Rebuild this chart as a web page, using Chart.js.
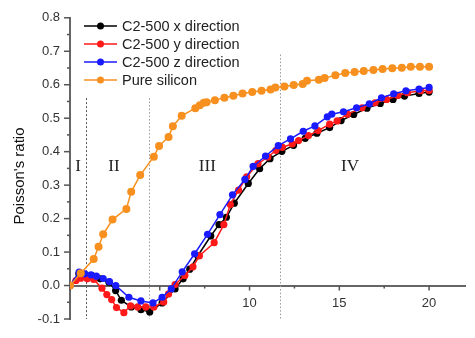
<!DOCTYPE html>
<html>
<head>
<meta charset="utf-8">
<script src="https://cdn.jsdelivr.net/npm/chart.js@4.4.1/dist/chart.umd.min.js"></script>
<style>
  html, body { margin: 0; padding: 0; background: #fff; }
</style>
</head>
<body>
<canvas id="chart-poisson" width="475" height="338"></canvas>
<script>
const seriesNames = ['C2-500 x direction', 'C2-500 y direction', 'C2-500 z direction', 'Pure silicon']
const seriesColors = ['#000000', '#ff1a1a', '#1a1aff', '#f7901e']

// C2-500, x direction
const xDirStrain = [0, 0.49, 0.87, 1.23, 1.68, 2.17, 2.54, 2.86, 3.41, 3.95, 4.44, 5.13, 5.85, 6.3, 6.67, 7.12, 7.84, 8.3, 8.71, 9.15, 9.93, 10.56, 11.14, 11.8, 12.45, 13.1, 13.75, 14.46, 15.1, 15.8, 16.54, 17.28, 17.99, 18.63, 19.44, 20.0]
const xDirRatio = [0, 0.035, 0.032, 0.030, 0.020, 0.010, -0.015, -0.044, -0.064, -0.072, -0.079, -0.052, -0.010, 0.020, 0.049, 0.089, 0.148, 0.182, 0.204, 0.246, 0.305, 0.349, 0.379, 0.401, 0.419, 0.440, 0.455, 0.472, 0.493, 0.511, 0.530, 0.544, 0.556, 0.566, 0.574, 0.578]

// C2-500, y direction
const yDirStrain = [0, 0.33, 0.6, 0.96, 1.32, 1.78, 2.05, 2.32, 2.59, 3.0, 3.37, 3.77, 4.22, 4.67, 5.22, 5.49, 5.85, 6.4, 6.85, 7.21, 8.03, 8.57, 8.93, 9.39, 9.84, 10.47, 11.02, 11.47, 11.83, 12.38, 12.73, 13.28, 13.82, 14.46, 14.88, 15.45, 16.27, 16.99, 17.63, 18.26, 18.8, 19.53, 20.0]
const yDirRatio = [0, 0.015, 0.022, 0.020, 0.018, -0.008, -0.027, -0.042, -0.066, -0.081, -0.061, -0.064, -0.064, -0.064, -0.049, -0.025, 0.003, 0.030, 0.056, 0.089, 0.128, 0.182, 0.242, 0.285, 0.325, 0.364, 0.384, 0.404, 0.413, 0.423, 0.433, 0.448, 0.463, 0.482, 0.492, 0.512, 0.531, 0.546, 0.556, 0.568, 0.576, 0.582, 0.583]

// C2-500, z direction
const zDirStrain = [0, 0.51, 0.82, 1.17, 1.47, 1.85, 2.2, 2.55, 3.28, 3.95, 4.62, 5.13, 5.64, 6.25, 6.94, 7.66, 8.35, 9.05, 9.74, 10.2, 10.89, 11.6, 12.28, 12.99, 13.64, 14.33, 14.58, 15.23, 15.96, 16.67, 17.35, 18.03, 18.71, 19.44, 20.0]
const zDirRatio = [0, 0.040, 0.035, 0.032, 0.028, 0.021, 0.012, 0.000, -0.035, -0.046, -0.052, -0.035, -0.010, 0.041, 0.095, 0.153, 0.212, 0.271, 0.317, 0.356, 0.387, 0.418, 0.438, 0.461, 0.477, 0.504, 0.512, 0.519, 0.531, 0.543, 0.561, 0.573, 0.582, 0.587, 0.592]

// pure silicon
const siStrain = [0, 0.6, 1.32, 1.59, 1.85, 2.37, 3.14, 3.41, 3.91, 4.67, 4.96, 5.49, 5.73, 6.22, 6.98, 7.23, 7.45, 7.61, 8.07, 8.6, 9.1, 9.61, 10.15, 10.67, 11.17, 11.44, 11.94, 12.46, 12.96, 13.2, 13.86, 14.18, 14.78, 15.33, 15.85, 16.36, 16.9, 17.41, 17.95, 18.48, 18.98, 19.49, 20.0]
const siRatio = [0, 0.037, 0.079, 0.116, 0.153, 0.197, 0.229, 0.280, 0.330, 0.385, 0.417, 0.444, 0.476, 0.507, 0.530, 0.539, 0.546, 0.548, 0.554, 0.561, 0.567, 0.574, 0.578, 0.582, 0.586, 0.592, 0.595, 0.599, 0.602, 0.612, 0.615, 0.620, 0.628, 0.635, 0.638, 0.641, 0.644, 0.647, 0.649, 0.651, 0.654, 0.654, 0.654]

// deformation stages
const stageNames = ['I', 'II', 'III', 'IV']
const stageLabelStrain = [0.45, 2.45, 7.65, 15.6]
const stageBounds = [0.9, 4.4, 11.7]
const stageBoundTops = [0.56, 0.56, 0.69]

const xLabelled = [10, 15, 20]
const yTitle = "Poisson's ratio"

function pairs(xs, ys) {
  return xs.map((x, i) => ({ x: x, y: ys[i] }))
}

const allSeries = [
  pairs(xDirStrain, xDirRatio),
  pairs(yDirStrain, yDirRatio),
  pairs(zDirStrain, zDirRatio),
  pairs(siStrain, siRatio)
]
const drawOrder = [3, 2, 1, 0]

const decor = {
  id: 'decor',
  beforeDatasetsDraw(chart) {
    const ctx = chart.ctx
    const xs = chart.scales.x
    const ys = chart.scales.y
    ctx.save()
    ctx.lineWidth = 1
    stageBounds.forEach((b, i) => {
      const px = Math.round(xs.getPixelForValue(b)) + 0.5
      ctx.strokeStyle = i === 0 ? '#555' : '#999'
      ctx.setLineDash(i === 0 ? [2, 2] : [1.5, 2])
      ctx.beginPath()
      ctx.moveTo(px, ys.getPixelForValue(stageBoundTops[i]))
      ctx.lineTo(px, ys.getPixelForValue(-0.1))
      ctx.stroke()
    })
    ctx.setLineDash([])
    ctx.fillStyle = '#222'
    ctx.font = '17px "Liberation Serif", "Times New Roman", serif'
    ctx.textAlign = 'center'
    ctx.textBaseline = 'middle'
    stageNames.forEach((s, i) => {
      ctx.fillText(s, xs.getPixelForValue(stageLabelStrain[i]), ys.getPixelForValue(0.357))
    })

    // tick marks, outward
    ctx.strokeStyle = '#555'
    ctx.lineWidth = 1.5
    const y0 = ys.getPixelForValue(0)
    for (let v = 0; v <= 20.01; v += 2.5) {
      const px = xs.getPixelForValue(v)
      const len = Math.abs(v % 5) < 0.01 ? 5 : 3
      ctx.beginPath()
      ctx.moveTo(px, y0)
      ctx.lineTo(px, y0 + len)
      ctx.stroke()
    }
    for (let k = -2; k <= 16; k++) {
      const py = ys.getPixelForValue(k * 0.05)
      const len = k % 2 === 0 ? 6 : 3
      ctx.beginPath()
      ctx.moveTo(xs.left, py)
      ctx.lineTo(xs.left - len, py)
      ctx.stroke()
    }

    // y axis title, set a bit lower than centre like the original
    ctx.fillStyle = '#111'
    ctx.font = '15px "Liberation Sans", Arial, sans-serif'
    ctx.translate(20, 176)
    ctx.rotate(-Math.PI / 2)
    ctx.fillText(yTitle, 0, 0)
    ctx.restore()
  },
  afterDraw(chart) {
    const ctx = chart.ctx
    ctx.save()
    ctx.font = '14.5px "Liberation Sans", Arial, sans-serif'
    ctx.textBaseline = 'middle'
    ctx.textAlign = 'left'
    seriesNames.forEach((name, i) => {
      const yy = 26 + i * 18
      ctx.strokeStyle = seriesColors[i]
      ctx.lineWidth = 1.5
      ctx.beginPath()
      ctx.moveTo(84, yy)
      ctx.lineTo(117, yy)
      ctx.stroke()
      ctx.fillStyle = seriesColors[i]
      ctx.beginPath()
      ctx.arc(100.5, yy, 3.5, 0, Math.PI * 2)
      ctx.fill()
      ctx.fillStyle = '#222'
      ctx.fillText(name, 122, yy + 1)
    })
    ctx.restore()
  }
}

const ctxPoisson = document.getElementById('chart-poisson').getContext('2d')

new Chart(ctxPoisson, {
  type: 'line',
  data: {
    datasets: allSeries.map((pts, i) => ({
      label: seriesNames[i],
      data: pts,
      borderColor: seriesColors[i],
      backgroundColor: seriesColors[i],
      borderWidth: 1.5,
      pointRadius: i === 3 ? 4 : 3.6,
      pointBorderWidth: 0,
      tension: 0,
      order: drawOrder[i]
    }))
  },
  options: {
    responsive: false,
    animation: false,
    devicePixelRatio: 1,
    layout: { padding: { top: 14, right: 1, bottom: 19, left: 0 } },
    plugins: {
      legend: { display: false },
      tooltip: { enabled: false }
    },
    scales: {
      x: {
        type: 'linear',
        position: { y: 0 },
        min: 0,
        max: 22,
        grid: { display: false, drawTicks: false },
        border: { color: '#666', width: 2 },
        ticks: {
          stepSize: 5,
          padding: 10,
          color: '#333',
          font: { size: 13, family: '"Liberation Sans", Arial, sans-serif' },
          maxRotation: 0,
          autoSkip: false,
          callback: v => xLabelled.includes(v) ? String(v) : ''
        },
        title: {
          display: true,
          text: 'Compression strain (%)',
          color: '#111',
          font: { size: 15, family: '"Liberation Sans", Arial, sans-serif' },
          padding: { top: 15, bottom: 0 }
        }
      },
      y: {
        min: -0.1,
        max: 0.8,
        grid: { display: false, drawTicks: false },
        border: { color: '#666', width: 2 },
        ticks: {
          stepSize: 0.1,
          padding: 10,
          color: '#333',
          font: { size: 13, family: '"Liberation Sans", Arial, sans-serif' },
          callback: v => v.toFixed(1)
        },
        title: { display: false },
        afterFit(scale) { scale.width = 70 }
      }
    }
  },
  plugins: [decor]
})
</script>
</body>
</html>
